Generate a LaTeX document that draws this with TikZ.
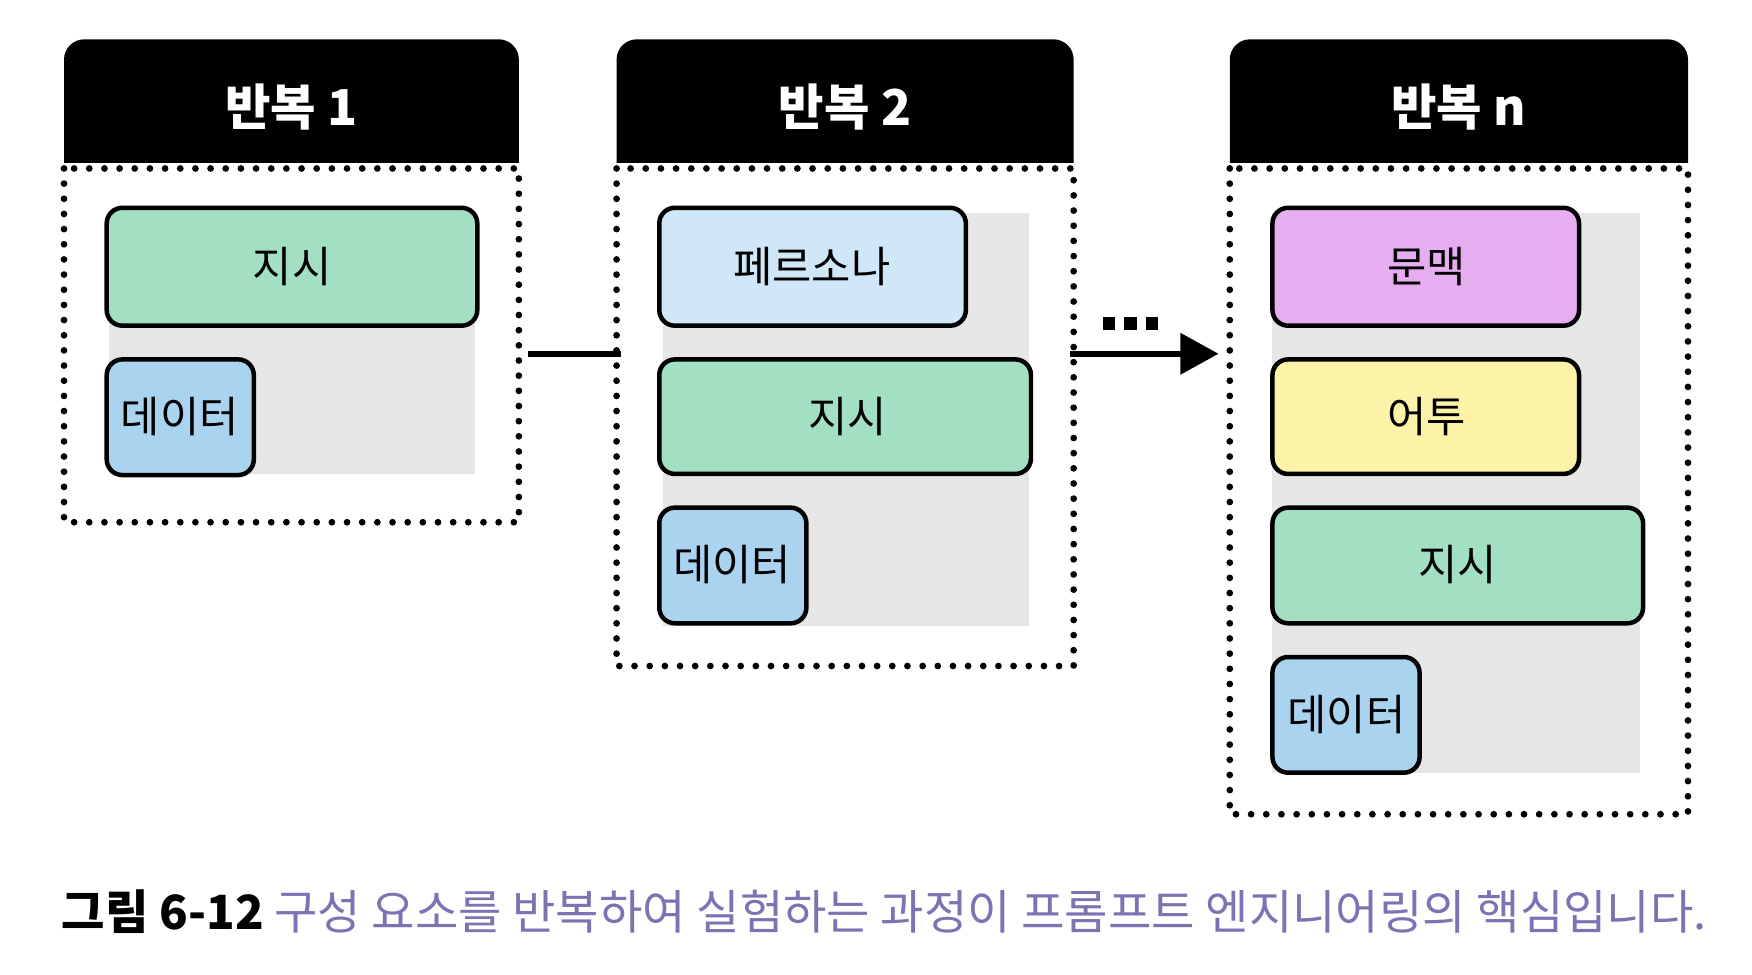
\documentclass[tikz,border=0pt]{standalone}
\usepackage{fontspec}
\setmainfont{Noto Sans CJK KR}
\usetikzlibrary{arrows.meta}
\definecolor{grn}{HTML}{A3E0C3}
\definecolor{blu}{HTML}{A9D3EE}
\definecolor{lblu}{HTML}{CFE7F6}
\definecolor{pnk}{HTML}{E6AEF0}
\definecolor{yel}{HTML}{FDF3A8}
\definecolor{bgg}{HTML}{E6E6E6}
\definecolor{cap}{HTML}{7A74B2}
\tikzset{
 hdr/.style={fill=black},
 body/.style={line width=6pt,dash pattern=on 0pt off 13.5pt,line cap=round},
 item/.style={draw=black,line width=4pt,rounded corners=14pt},
 itxt/.style={font=\fontsize{38}{42}\selectfont},
 htxt/.style={text=white,font=\bfseries\fontsize{44}{48}\selectfont},
}
\begin{document}
\begin{tikzpicture}[x=1pt,y=-1pt]
\useasboundingbox (0,0) rectangle (1560,868);
% box 1
\fill[hdr] (57,145) -- (57,55) [rounded corners=18pt]-- (57,35) -- (462,35) [sharp corners]-- (462,55) -- (462,145) -- cycle;
\node[htxt] (h1) at (259.5,95) {반복 1};
\draw[body] (57,150) rectangle (462,465);
\fill[bgg] (97,190) rectangle (423,422);
\draw[item,fill=grn] (95,185) rectangle (425,290);
\node[itxt] (a1) at (260,237) {지시};
\draw[item,fill=blu] (95,320) rectangle (226,423);
\node[itxt] (a2) at (160,371) {데이터};
% box 2
\fill[hdr] (549,145) -- (549,55) [rounded corners=18pt]-- (549,35) -- (956,35) [sharp corners]-- (956,55) -- (956,145) -- cycle;
\node[htxt] (h2) at (752.5,95) {반복 2};
\draw[body] (549,150) rectangle (956,593);
\fill[bgg] (590,190) rectangle (916,557);
\draw[item,fill=lblu] (587,185) rectangle (860,290);
\node[itxt] (b1) at (723,237) {페르소나};
\draw[item,fill=grn] (587,320) rectangle (918,422);
\node[itxt] (b2) at (755,371) {지시};
\draw[item,fill=blu] (587,452) rectangle (718,555);
\node[itxt] (b3) at (652,503) {데이터};
% box n
\fill[hdr] (1095,145) -- (1095,55) [rounded corners=18pt]-- (1095,35) -- (1503,35) [sharp corners]-- (1503,55) -- (1503,145) -- cycle;
\node[htxt] (h3) at (1299,95) {반복 n};
\draw[body] (1095,150) rectangle (1503,725);
\fill[bgg] (1133,190) rectangle (1460,688);
\draw[item,fill=pnk] (1133,185) rectangle (1406,290);
\node[itxt] (c1) at (1270,237) {문맥};
\draw[item,fill=yel] (1133,320) rectangle (1406,422);
\node[itxt] (c2) at (1270,371) {어투};
\draw[item,fill=grn] (1133,452) rectangle (1463,555);
\node[itxt] (c3) at (1298,503) {지시};
\draw[item,fill=blu] (1133,585) rectangle (1264,688);
\node[itxt] (c4) at (1199,636) {데이터};
% connectors
\coordinate (p1) at (470,315); \coordinate (p2) at (553,315);
\draw[line width=5pt] (p1) -- (p2);
\coordinate (q1) at (953,315); \coordinate (q2) at (1085,315);
\draw[line width=5pt,-{Triangle[length=34pt,width=36pt]}] (q1) -- (q2);
\coordinate (d1) at (982,288); \coordinate (d2) at (1031,288);
\draw[line width=11pt,dash pattern=on 11pt off 8pt] (d1) -- (d2);
% caption
\node[anchor=west,inner sep=0pt,font=\fontsize{42}{46}\selectfont] (cap) at (55,812)
 {\textbf{그림 6-12} \textcolor{cap}{구성 요소를 반복하여 실험하는 과정이 프롬프트 엔지니어링의 핵심입니다.}};
\end{tikzpicture}
\end{document}
